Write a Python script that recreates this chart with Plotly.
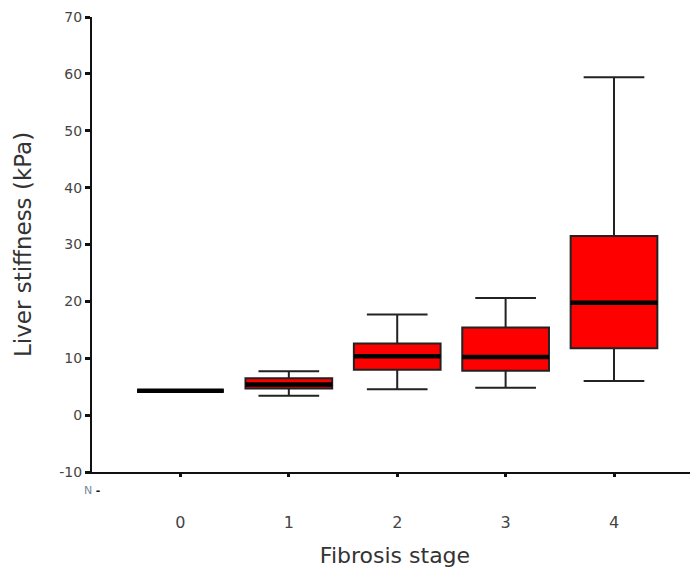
import plotly.graph_objects as go

stages = [0, 1, 2, 3, 4]
stage_labels = ["0", "1", "2", "3", "4"]
lower_whisker = [4.3, 3.4, 4.55, 4.8, 6.0]
q1_vals = [4.3, 4.7, 8.0, 7.8, 11.75]
median_vals = [4.3, 5.4, 10.35, 10.2, 19.75]
q3_vals = [4.3, 6.5, 12.6, 15.4, 31.5]
upper_whisker = [4.3, 7.7, 17.7, 20.6, 59.4]
y_ticks = [-10, 0, 10, 20, 30, 40, 50, 60, 70]
y_tick_labels = ["-10", "0", "10", "20", "30", "40", "50", "60", "70"]

FONT = "DejaVu Sans"

fig = go.Figure()
fig.add_trace(go.Box(
    x=stages, q1=q1_vals, median=median_vals, q3=q3_vals,
    lowerfence=lower_whisker, upperfence=upper_whisker,
    fillcolor="#ff0000", line=dict(color="#222222", width=2),
    width=0.8, whiskerwidth=0.7, boxpoints=False, showlegend=False,
))
# thick median bars
fig.add_trace(go.Box(
    x=stages, q1=median_vals, median=median_vals, q3=median_vals,
    lowerfence=median_vals, upperfence=median_vals,
    fillcolor="#000000", line=dict(color="#000000", width=4.5),
    width=0.8, whiskerwidth=0, boxpoints=False, showlegend=False,
))

fig.update_layout(
    width=690, height=560,
    margin=dict(l=84, r=0, t=9, b=96),
    paper_bgcolor="white", plot_bgcolor="white",
    boxmode="overlay",
    font=dict(family=FONT, color="#444444"),
    xaxis=dict(
        range=[-0.816, 4.775], tickmode="array", tickvals=stages, ticktext=stage_labels,
        showgrid=False, zeroline=False, showline=True, linecolor="#111111", linewidth=2,
        ticks="outside", ticklen=3, tickwidth=3, tickcolor="#111111",
        ticklabelstandoff=32, tickfont=dict(size=16, color="#444444"), automargin=False,
        title=dict(text="Fibrosis stage", font=dict(size=22, color="#333333"), standoff=18),
    ),
    yaxis=dict(
        range=[-10, 70], tickmode="array", tickvals=y_ticks, ticktext=y_tick_labels,
        showgrid=False, zeroline=False, showline=True, linecolor="#111111", linewidth=2,
        ticks="outside", ticklen=5, tickwidth=3, tickcolor="#111111",
        tickfont=dict(size=14, color="#444444"), automargin=False, ticklabeloverflow="allow",
        title=dict(text="Liver stiffness (kPa)", font=dict(size=23, color="#333333"), standoff=21),
    ),
    annotations=[dict(text="N <b><span style='color:#111111'>-</span></b>",
                      xref="paper", yref="paper", x=0.016, y=-0.04,
                      xanchor="right", yanchor="middle", showarrow=False,
                      font=dict(size=11, color="#778899"))],
)

fig.write_html("out.html")
